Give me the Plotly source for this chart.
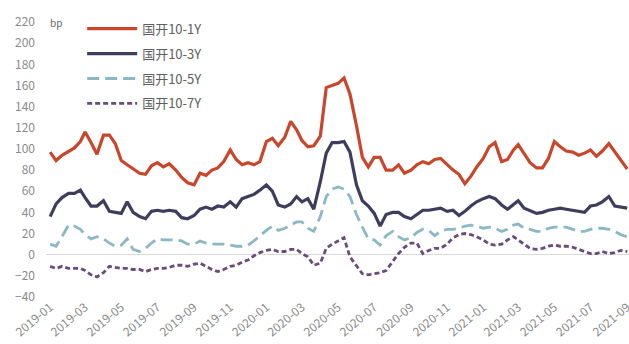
import plotly.graph_objects as go

# Sample dates: the 1st, 11th and 21st of each month, 2019-01 to 2021-09
months = [f"{y}-{m:02d}" for y in (2019, 2020, 2021) for m in range(1, 13)]
months = months[: months.index("2021-08") + 1]
dates = [f"{mo}-{d:02d}" for mo in months for d in (1, 11, 21)] + ["2021-09-01"]

# Axis labels every two months
tick_labels = ["2019-01", "2019-03", "2019-05", "2019-07", "2019-09", "2019-11",
               "2020-01", "2020-03", "2020-05", "2020-07", "2020-09", "2020-11",
               "2021-01", "2021-03", "2021-05", "2021-07", "2021-09"]

# Term spreads of CDB bonds, in bp
spread_10_1 = [97, 89, 94, 98, 101, 107, 116, 106, 95, 113, 113, 105, 89, 85, 81, 77,
               76, 84, 87, 83, 86, 80, 73, 68, 66, 77, 75, 80, 82, 88, 99, 90, 85, 87,
               85, 88, 107, 110, 103, 111, 126, 118, 108, 102, 103, 112, 158, 160, 162,
               167, 152, 122, 92, 83, 92, 92, 80, 80, 85, 77, 80, 85, 88, 86, 90, 91,
               85, 80, 76, 67, 74, 83, 91, 102, 106, 88, 90, 99, 104, 96, 87, 82, 82,
               91, 107, 102, 98, 97, 94, 96, 99, 93, 98, 105, 97, 90, 81]
spread_10_3 = [36, 48, 54, 58, 58, 61, 54, 46, 46, 51, 41, 40, 39, 50, 40, 36, 34, 41,
               42, 41, 42, 41, 35, 34, 37, 43, 45, 43, 46, 45, 50, 45, 53, 55, 57, 61,
               66, 60, 47, 45, 48, 55, 50, 53, 43, 69, 96, 106, 106, 107, 97, 66, 51,
               46, 39, 27, 38, 40, 40, 36, 34, 38, 42, 42, 43, 44, 41, 42, 37, 41, 46,
               50, 53, 55, 53, 47, 43, 47, 51, 44, 42, 39, 40, 42, 43, 44, 43, 42, 41,
               40, 46, 47, 50, 55, 46, 45, 44]
spread_10_5 = [10, 8, 17, 28, 27, 24, 19, 15, 17, 15, 11, 8, 9, 15, 5, 3, 6, 11, 15, 14,
               14, 14, 13, 10, 10, 13, 11, 10, 10, 10, 9, 8, 8, 9, 13, 18, 23, 27, 23,
               25, 28, 31, 31, 25, 22, 36, 55, 62, 64, 62, 55, 38, 26, 15, 14, 9, 18,
               22, 17, 14, 16, 21, 24, 23, 18, 22, 24, 24, 25, 27, 28, 27, 25, 26, 25,
               22, 24, 28, 29, 25, 24, 22, 22, 25, 26, 26, 26, 24, 22, 22, 24, 25, 25,
               24, 22, 19, 17]
spread_10_7 = [-11, -13, -11, -13, -13, -13, -15, -19, -21, -17, -11, -12, -13, -13,
               -14, -14, -16, -14, -13, -13, -12, -10, -10, -11, -9, -8, -11, -14, -16,
               -14, -11, -10, -7, -5, -1, 2, 4, 5, 3, 3, 5, 5, 1, -2, -10, -8, 6, 10,
               13, 16, -2, -10, -18, -19, -18, -17, -15, -6, 1, 7, 11, 11, 1, 4, 6, 6,
               10, 16, 19, 20, 19, 17, 14, 10, 9, 10, 14, 17, 14, 10, 6, 5, 6, 8, 9, 8,
               8, 7, 5, 3, 1, 1, 3, 1, 2, 4, 3]

series = [
    ("国开10-1Y", spread_10_1, "#C9462A", "solid", 3.2),
    ("国开10-3Y", spread_10_3, "#3E3D5E", "solid", 3.2),
    ("国开10-5Y", spread_10_5, "#8CB8C5", "12px,6px", 2.8),
    ("国开10-7Y", spread_10_7, "#6A4B7C", "5px,3px", 2.8),
]

fig = go.Figure()
for name, vals, color, dash, width in series:
    fig.add_trace(go.Scatter(
        x=dates, y=vals, name=name, mode="lines", legendgroup=name,
        line=dict(color=color, width=width, dash=dash),
    ))

font_family = "Noto Sans CJK SC, Noto Sans, sans-serif"
fig.update_layout(
    width=629, height=344,
    margin=dict(l=46, r=0, t=22, b=47),
    paper_bgcolor="white", plot_bgcolor="white",
    font=dict(family=font_family, size=12, color="#808080"),
    showlegend=True,
    legend=dict(
        x=0.062, y=1.03, xanchor="left", yanchor="top",
        bgcolor="rgba(0,0,0,0)", itemwidth=50,
        font=dict(size=13, color="#5E5E5E"),
        tracegroupgap=5, traceorder="grouped",
    ),
    xaxis=dict(
        type="date",
        range=["2018-12-25", "2021-09-04"],
        tickvals=[t + "-01" for t in tick_labels], ticktext=tick_labels,
        tickangle=-40, showgrid=False, showline=False, zeroline=False,
        ticks="", automargin=False, ticklabeloverflow="allow",
        tickfont=dict(size=12, color="#8A8A8A"),
    ),
    yaxis=dict(
        range=[-40, 220], dtick=20, showgrid=False, showline=False,
        zeroline=True, zerolinecolor="#D9D9D9", zerolinewidth=1,
        ticks="", automargin=False, ticklabelstandoff=10,
        tickfont=dict(size=12, color="#8A8A8A"),
    ),
    annotations=[dict(
        text="bp", xref="paper", yref="paper", x=0.003, y=1.0,
        xanchor="left", yanchor="middle", showarrow=False,
        font=dict(size=10, color="#666666"),
    )],
)

fig.write_html("out.html")
